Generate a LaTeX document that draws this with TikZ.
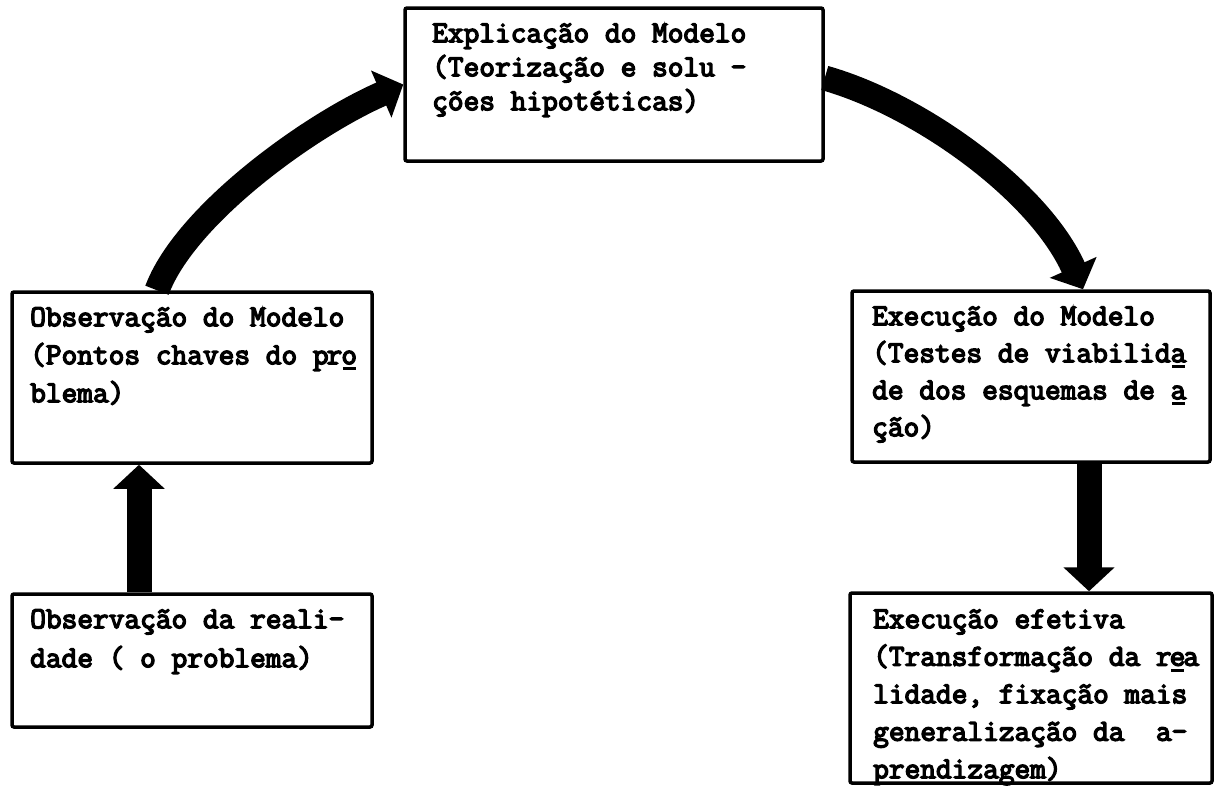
\documentclass[tikz,border=0pt]{standalone}
\usepackage{fontspec}
\newfontfamily\tw[FakeBold=4.5]{Latin Modern Mono}
\usetikzlibrary{arrows.meta}
\newcommand\tul[1]{\leavevmode\rlap{\hspace{1.5pt}\rule[-6pt]{13pt}{3pt}}#1}
\newcommand\fstrut{\rule{0pt}{27pt}}
\begin{document}
\begin{tikzpicture}[x=1pt,y=-1pt,
  box/.style={draw, line width=3.5pt, rounded corners=2pt, inner sep=0pt},
  txt/.style={anchor=north west, inner sep=0pt, align=left,
    font=\tw\fontsize{30.5}{#1}\selectfont},
  bigarrow/.style={line width=25pt, -{Triangle[width=50pt,length=24pt]}}]
\useasboundingbox (0,0) rectangle (1221,787);

% boxes
\node[box, minimum width=418pt, minimum height=153pt] (top)  at (614,84.5) {};
\node[box, minimum width=360pt, minimum height=171pt] (obsm) at (192,377.5) {};
\node[box, minimum width=360pt, minimum height=133pt] (obsr) at (192,660.5) {};
\node[box, minimum width=358pt, minimum height=171pt] (exem) at (1031,376.5) {};
\node[box, minimum width=362pt, minimum height=190pt] (exee) at (1031,688) {};

% texts
\node[txt=34] (toptxt) at (432,15) {\fstrut Explicação do Modelo\\(Teorização e solu -\\ções hipotéticas)};
\node[txt=38] (obsmtxt) at (30,299) {\fstrut Observação do Modelo\\(Pontos chaves do p\kern-2pt r\kern-1pt\tul{o}\\blema)};
\node[txt=39] (obsrtxt) at (30,601) {\fstrut Observação da reali-\\dade ( o problema)};
\node[txt=37] (exemtxt) at (872,298) {\fstrut Execução do Modelo\\(Testes de viabilid\tul{a}\\de dos esquemas de \tul{a}\\ção)};
\node[txt=37.5] (exeetxt) at (873,601) {\fstrut Execução efetiva\\(Transformação da r\kern-2pt\tul{e}\kern-2pt a\\lidade, fixação mais\\generalização da~ a-\\prendizagem)};

% arrows
\draw[bigarrow] ([xshift=-35pt]obsm.north) .. controls (185,215) and (310,125) .. (top.west);
\draw[bigarrow] ([yshift=6.5pt]top.east) .. controls (920,105) and (1039,191) .. ([xshift=52pt]exem.north);
\draw[bigarrow] ([xshift=-53pt]obsr.north) -- ([xshift=-53pt]obsm.south);
\draw[bigarrow] ([xshift=58pt]exem.south) -- ([xshift=58pt]exee.north);
\end{tikzpicture}
\end{document}
